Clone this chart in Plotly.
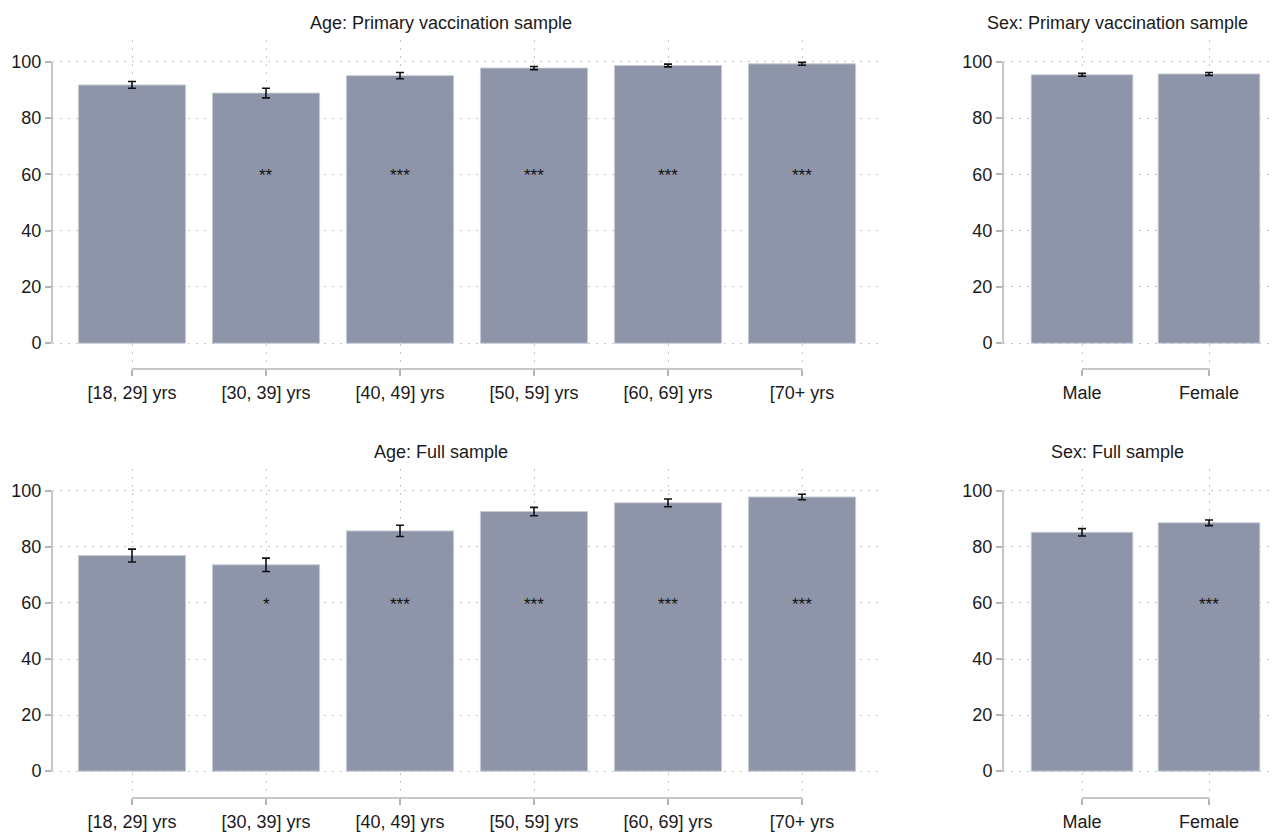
import plotly.graph_objects as go

# Vaccination share (%) by group, with 95% CI half-widths and significance stars
age_labels = ["[18, 29] yrs", "[30, 39] yrs", "[40, 49] yrs", "[50, 59] yrs", "[60, 69] yrs", "[70+ yrs"]
sex_labels = ["Male", "Female"]

age_primary = [91.8, 88.9, 95.1, 97.8, 98.7, 99.3]
age_primary_ci = [1.2, 1.7, 1.1, 0.55, 0.5, 0.5]
age_primary_sig = ["", "**", "***", "***", "***", "***"]

sex_primary = [95.4, 95.7]
sex_primary_ci = [0.5, 0.5]
sex_primary_sig = ["", ""]

age_full = [76.9, 73.6, 85.7, 92.6, 95.7, 97.8]
age_full_ci = [2.3, 2.4, 2.0, 1.5, 1.4, 1.0]
age_full_sig = ["", "*", "***", "***", "***", "***"]

sex_full = [85.2, 88.6]
sex_full_ci = [1.3, 1.0]
sex_full_sig = ["", "***"]

yticks = [0, 20, 40, 60, 80, 100]
star_level = 59.5

W, H = 1274, 832
BAR = "rgba(131,138,158,0.9)"
GRID = "#c4c4c4"
AXIS = "#b4b4b4"
FONT = "Liberation Sans, Arial, sans-serif"
FS = 18


def px_x(p):
    return p / W


def px_y(p):
    return 1 - p / H


# panel geometry (pixels): x-left, x-right, top, bottom, y of 0, y of 100
panels = [
    dict(name="1", x0=52, x1=880, top=40, bot=370, z=344, h=62, c0=132, step=134,
         labels=age_labels, vals=age_primary, ci=age_primary_ci, sig=age_primary_sig,
         title="Age: Primary vaccination sample", tx=441, ty=23),
    dict(name="2", x0=1003, x1=1274, top=40, bot=370, z=344, h=62, c0=1082, step=127,
         labels=sex_labels, vals=sex_primary, ci=sex_primary_ci, sig=sex_primary_sig,
         title="Sex: Primary vaccination sample", tx=1117, ty=23),
    dict(name="3", x0=52, x1=880, top=470, bot=800, z=773, h=492, c0=132, step=134,
         labels=age_labels, vals=age_full, ci=age_full_ci, sig=age_full_sig,
         title="Age: Full sample", tx=441, ty=453),
    dict(name="4", x0=1003, x1=1274, top=470, bot=800, z=773, h=492, c0=1082, step=127,
         labels=sex_labels, vals=sex_full, ci=sex_full_ci, sig=sex_full_sig,
         title="Sex: Full sample", tx=1117, ty=453),
]

fig = go.Figure()
annotations = []
shapes = []
layout = {}

for p in panels:
    n = len(p["labels"])
    xs = list(range(n))
    xa = "x" + ("" if p["name"] == "1" else p["name"])
    ya = "y" + ("" if p["name"] == "1" else p["name"])
    fig.add_trace(go.Bar(
        x=xs, y=p["vals"], width=0.8, xaxis=xa, yaxis=ya,
        marker=dict(color=BAR, line=dict(color="rgba(200,204,214,0.9)", width=1)),
        error_y=dict(type="data", array=p["ci"], visible=True, color="#111111",
                     thickness=1.6, width=4),
        showlegend=False, hoverinfo="skip",
    ))
    scale = (p["z"] - p["h"]) / 100.0
    yr = [-(p["bot"] - p["z"]) / scale, (p["z"] - p["top"]) / scale]
    xr = [(p["x0"] - p["c0"]) / p["step"], (p["x1"] - p["c0"]) / p["step"]]
    xkey = "xaxis" + ("" if p["name"] == "1" else p["name"])
    ykey = "yaxis" + ("" if p["name"] == "1" else p["name"])
    layout[xkey] = dict(
        domain=[px_x(p["x0"]), px_x(p["x1"])], anchor=ya, range=xr,
        tickmode="array", tickvals=xs, ticktext=p["labels"],
        showgrid=True, gridcolor=GRID, griddash="2px,6px", gridwidth=1,
        zeroline=False, showline=False, ticks="outside", ticklen=6,
        tickcolor=AXIS, tickwidth=1.5, ticklabelstandoff=1,
        tickfont=dict(family=FONT, size=FS, color="#1a1a1a"), fixedrange=True,
    )
    layout[ykey] = dict(
        domain=[px_y(p["bot"]), px_y(p["top"])], anchor=xa, range=yr,
        tickmode="array", tickvals=yticks,
        showgrid=True, gridcolor=GRID, griddash="2px,6px", gridwidth=1,
        zeroline=False, showline=False, ticks="outside", ticklen=6,
        tickcolor=AXIS, tickwidth=1.5,
        tickfont=dict(family=FONT, size=FS, color="#1a1a1a"), fixedrange=True,
    )
    # y axis spine spans the tick range only
    shapes.append(dict(type="line", xref=xa + " domain", yref=ya, x0=0, x1=0,
                       y0=yticks[0], y1=yticks[-1], line=dict(color=AXIS, width=1.5)))
    # x axis spine from first to last category
    shapes.append(dict(type="line", xref=xa, yref=ya + " domain", x0=xs[0], x1=xs[-1],
                       y0=0, y1=0, line=dict(color=AXIS, width=1.5)))
    for i, s in enumerate(p["sig"]):
        if s:
            annotations.append(dict(x=i, y=star_level, xref=xa, yref=ya, text=s,
                                    showarrow=False, yanchor="middle",
                                    font=dict(family=FONT, size=17, color="#111111")))
    annotations.append(dict(x=px_x(p["tx"]), y=px_y(p["ty"]), xref="paper", yref="paper",
                            text=p["title"], showarrow=False, xanchor="center",
                            yanchor="middle",
                            font=dict(family=FONT, size=FS, color="#1a1a1a")))

fig.update_layout(
    width=W, height=H, margin=dict(l=0, r=0, t=0, b=0),
    paper_bgcolor="white", plot_bgcolor="white",
    annotations=annotations, shapes=shapes, bargap=0.2,
    **layout,
)

fig.write_html("out.html")
